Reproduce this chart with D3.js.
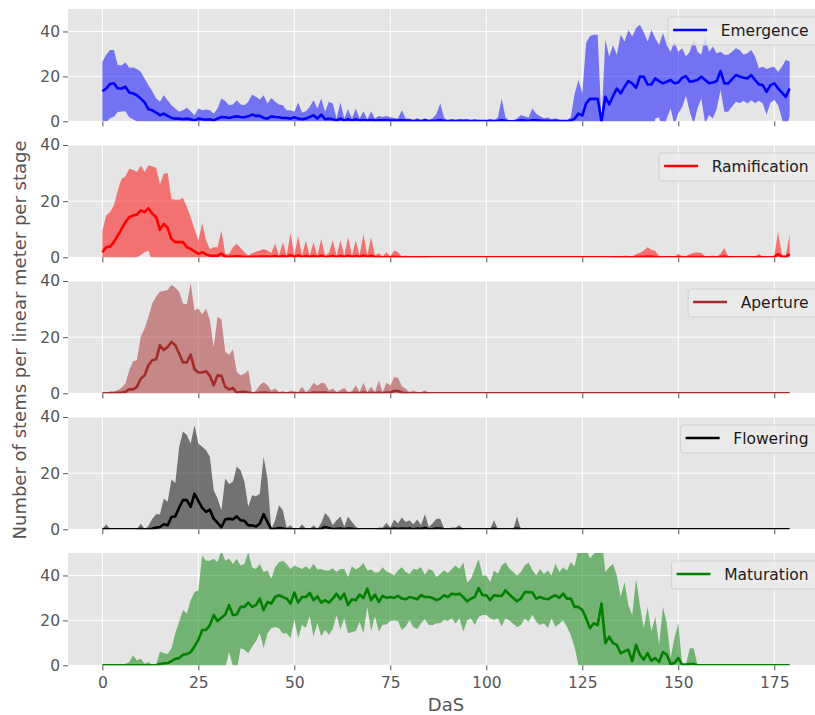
<!DOCTYPE html>
<html>
<head>
<meta charset="utf-8">
<script src="https://cdn.jsdelivr.net/npm/d3@7"></script>
<style>
html,body{margin:0;padding:0;background:#fff;}
svg{display:block;font-family:"DejaVu Sans",sans-serif;}
</style>
</head>
<body>
<svg id="chart" width="815" height="715"></svg>
<script>
// ---------------- DATA ----------------
const days = d3.range(0, 180);
const xTicks = [0, 25, 50, 75, 100, 125, 150, 175];
const yTicks = [0, 20, 40];
const stageNames = ["Emergence", "Ramification", "Aperture", "Flowering", "Maturation"];
const stageColors = ["#0000ff", "#ff0000", "#a52a2a", "#000000", "#008000"];
const yMax = [50, 40, 40, 40, 50];

const emergenceMean = [
13.4,14.6,16.6,16.9,14.6,14.6,15.4,12.8,12.4,11.6,
10.1,8.4,5.4,4.9,3.9,2.7,3.4,2.4,1.5,1.2,
1.2,0.9,1.2,0.9,0.4,1.2,0.9,0.7,0.9,0.4,
1.2,1.9,1.8,1.5,1.9,2.2,1.9,1.8,2.2,3.0,
2.4,2.4,1.5,1.2,2.2,1.9,1.8,1.5,1.5,1.2,
1.8,1.2,0.9,1.2,1.9,2.7,1.2,3.0,0.9,1.2,
0.9,0.3,1.2,0.3,0.9,0.3,0.9,0.3,0.6,0.3,
0.6,0.3,0.4,0.4,0.4,0.3,0.3,0.3,0.4,0.3,
0.3,0.1,0.3,0.1,0.4,0.1,0.2,0.3,0.5,0.2,
0.1,0.2,0.1,0.2,0.2,0.2,0.1,0.2,0.1,0.1,
0.1,0.2,0.1,0.2,0.5,0.2,0,0,0.2,0.4,
0.3,0.2,0.5,0.4,0.3,0.2,0.2,0.1,0.2,0.1,
0.1,0.1,0.3,1.2,3.4,2.5,8.0,10.0,10.0,10.0,
0,10.9,7.5,11.3,14.6,12.4,15.4,17.9,16.9,14.9,
19.9,19.9,16.4,16.4,19.1,17.9,16.9,17.6,18.4,16.9,
17.3,19.4,20.1,17.6,17.9,18.4,19.9,18.4,16.9,17.3,
17.9,22.4,16.9,16.9,18.8,20.6,19.9,19.4,19.1,20.6,
18.4,16.4,16.1,13.1,16.1,16.9,14.6,12.8,10.9,14.6];
const emergenceSd = [
13,15,15.2,14.9,10.5,10.2,10.9,11,11.5,11.7,
12,10.7,10.7,8.5,6.2,6,8.2,7,5.7,4.5,
3,4,4.8,3.6,2.3,4.5,4,4.5,4,3,
4.5,8.2,7.2,5.7,5.6,7.2,5.6,5.4,6.5,8.9,
8.5,7.3,10.1,6.7,8.2,6.8,5.7,5.7,3.4,3.7,
2.4,7.2,3,3.3,4.5,6.7,4.5,7.1,3.3,7.5,
7,0.9,7.2,0.9,4.5,0.9,4.8,0.9,3.9,0.6,
3.9,0.9,2,1.5,2,1.5,1.2,0.9,4.5,0.9,
0.9,0.3,1.2,0.3,1,0.5,1,3,7.4,1.5,
0.3,0.8,0.5,0.8,0.5,0.8,0.3,0.6,0.3,0.3,
0.3,0.8,0.3,1.5,9.5,1.5,0,0,1,2.4,
2,1.5,5.2,3,2,1.2,1.5,0.8,1.2,0.6,
0.3,0.3,1.5,11,15,10,27,28,28.5,28.5,
0,25.4,21.3,22.7,15,26.1,20.1,22.8,20.9,26.6,
23.1,19.8,19.1,24.3,17.9,16.1,22.4,16.4,12.6,18.6,
13.7,13.1,8.7,13.4,19.1,12.6,9.7,19.4,14.1,16,
12.4,8.6,12.7,12.7,12.2,11.9,11.9,10.2,11.2,11.2,
10.4,7.2,8.2,10.2,7.8,7.4,7.4,11.5,16.4,12];

const ramificationMean = [
1.8,3.6,3.8,5.4,7.7,10.1,12.5,14.3,14.9,15.2,
16.7,16.1,17.5,15.5,14.3,9.8,11.9,10.5,6.5,5.4,
5.4,5.4,3.6,3.0,2.1,1.2,1.8,1.0,0.6,0.5,
0.5,1.4,0.2,0.2,0.3,0.4,0.3,0.2,0.1,0.2,
0.2,0.3,0.3,0.3,0.2,0.5,0.1,0.5,0.1,0.8,
0.1,0.7,0.1,0.5,0.1,0.5,0.1,0.6,0.1,0.2,
0.5,0.1,0.5,0.1,0.6,0.1,0.5,0.1,0.7,0.1,
0.6,0.1,0.1,0,0.1,0,0.2,0.1,0,0,
0,0,0,0,0,0,0,0,0,0,
0,0,0,0,0,0,0,0,0,0,
0,0,0,0,0,0,0,0,0,0,
0,0,0,0,0,0,0,0,0,0,
0,0,0,0,0,0,0,0,0,0,
0,0,0,0,0,0,0,0,0,0.1,
0.1,0.2,0.3,0.2,0.1,0,0,0,0,0,
0.1,0,0,0.1,0.1,0.1,0.1,0,0,0,
0,0.1,0.3,0,0,0,0,0,0,0,
0,0.1,0,0,0,0.1,1.2,0.2,0.1,1.2];
const ramificationSd = [
7.7,11.3,12.3,13.1,16.1,17.9,16.3,17.2,16.3,15.2,
16,14.3,15.2,16.9,17.6,16.2,17.9,19.5,14.3,15.1,
15.1,15.8,14.3,11.3,8,4.8,10.3,5,2.4,3.1,
3.1,8.1,1,1,3.3,4.4,3,1.6,0.5,1.2,
1.8,2.1,2.7,2.1,1.3,4.3,0.5,4.9,0.5,7.8,
0.5,7,0.5,5.5,0.5,4.9,0.5,5.9,0.5,1.3,
5.5,0.5,5.5,0.5,6.5,0.5,5.5,0.5,7.6,0.5,
6.5,0.5,1.3,0.3,1.7,0.3,2.2,1.7,0.3,0.6,
0.2,0.2,0.5,0.3,0.5,0,0,0,0,0,
0,0,0,0,0,0,0,0,0,0,
0,0,0,0,0,0,0,0,0,0,
0,0,0,0,0,0,0,0,0,0,
0,0,0,0,0,0,0,0,0,0,
0,0,0,0.3,0.5,0.3,0.6,0.5,0.3,1,
1.5,2.2,3.3,2.5,2.1,0.5,0,0,0,0,
1.2,0.3,0.5,1,1.5,1.6,1.5,0.3,0.3,0.6,
0.3,1.2,3,0.3,0,0,0,0,0,0,
0.3,1,0.3,0,0,0.5,7.7,0.8,0.5,7.1];

const apertureMean = [
0,0,0,0,0.2,0.3,0.5,1.4,1.4,2.3,
5.2,6.4,10,11.8,12.1,17.1,15.4,16.5,18.3,17.1,
14.2,11,11,13.8,8.6,7.4,7.4,7.9,6.2,2.9,
6.4,6.2,2.3,1.4,1.9,0.2,0.5,0.5,0.3,0,
0,0.2,0.3,0.2,0,0.1,0,0,0,0,
0,0,0.1,0,0,0.3,0.2,0.3,0.3,0,
0.1,0,0,0.1,0,0,0.2,0,0.3,0,
0.2,0,0.3,0,0.3,0.3,0.8,0.8,0.3,0.1,
0,0,0,0,0.1,0,0,0,0,0,
0,0,0,0,0,0,0,0,0,0,
0,0,0,0,0,0,0,0,0,0,
0,0,0,0,0,0,0,0,0,0,
0,0,0,0,0,0,0,0,0,0,
0,0,0,0,0,0,0,0,0,0,
0,0,0,0,0,0,0,0,0,0,
0,0,0,0,0,0,0,0,0,0,
0,0,0,0,0,0,0,0,0,0,
0,0,0,0,0,0,0,0,0,0];
const apertureSd = [
0,0,0.7,0.7,0.9,1.7,3,6.8,10,9.5,
14.9,16.7,17.3,20.2,22.3,19.1,21,20.3,20.3,20.5,
22,21,20.7,25.4,21,22.8,20.7,22.3,19.8,13.6,
20.9,20.2,12.5,12.2,13.8,7.4,5.9,6.5,7.9,0,
1,2.7,3.7,2.7,1,1.6,0.5,0.8,0.3,1,
0.7,0.5,2.2,0.5,1.5,3.5,2.5,3.5,3.2,1,
1.6,0.5,1.2,1.8,0.5,0.8,2.7,0.5,3.5,0.5,
2.1,0.5,4.3,0.5,3.5,2.5,5,4.7,2.2,1.5,
0.5,1,0.5,0.3,1,0,0,0,0,0,
0,0,0,0,0,0,0,0,0,0,
0,0,0,0,0,0,0,0,0,0,
0,0,0,0,0,0,0,0,0,0,
0,0,0,0,0,0,0,0,0,0,
0,0,0,0,0,0,0,0,0,0,
0,0,0,0,0,0,0,0,0,0,
0,0,0,0,0,0,0,0,0,0,
0,0,0,0,0,0,0,0,0,0,
0,0,0,0,0,0,0,0,0,0];

const floweringMean = [
0,0.1,0,0,0,0,0,0,0,0,
0.1,0,0,0.2,0.6,0.8,1.8,1.4,4.4,4.6,
7.7,10.4,10.4,8,12.7,10.1,7.6,6.2,7,3.8,
2.3,0.8,3.5,3.8,3.5,4.6,3.2,3,1.4,1.4,
1,2,5.4,2.6,0,0.2,0.5,0.3,0,0,
0,0,0.1,0,0,0.1,0,0.2,0.8,0.5,
0,0.2,0.3,0,0.3,0.2,0,0,0,0,
0,0,0,0,0.2,0,0.3,0.1,0.3,0.2,
0.3,0,0.3,0.1,0.5,0,0.1,0.3,0.3,0,
0,0,0,0.1,0,0,0,0,0,0,
0,0,0.2,0,0,0,0,0,0.3,0,
0,0,0,0,0,0,0,0,0,0,
0,0,0,0,0,0,0,0,0,0,
0,0,0,0,0,0,0,0,0,0,
0,0,0,0,0,0,0,0,0,0,
0,0,0,0,0,0,0,0,0,0,
0,0,0,0,0,0,0,0,0,0,
0,0,0,0,0,0,0,0,0,0];
const floweringSd = [
0,1.7,0,0,0,0,0,0,0,0,
1.9,0,1.3,3.6,4.8,4.6,9.2,8.4,13.3,11.9,
21.7,24.4,23.2,22.6,24.4,20.5,21.8,22,18.8,10.1,
8.7,6,14.6,12.3,13.4,17.7,17.8,13.9,6.6,10.7,
10.8,10.7,20.4,15.5,0,3,8.1,6.5,0.6,1.4,
0,0,1.7,0.3,0,1.3,0,2,5,3.9,
1.4,3,4.3,1,4.3,2.4,1,0,0,0,
0,0,0.6,0.6,2.1,0.6,3.2,2,3.9,2.4,
2.9,1.8,3.2,1.4,4.9,0.8,2,3.5,3.5,0.3,
0.3,0.6,0.6,1.3,0,0,0,0,0,0,
0,0,3,0,0,0,0,0,4.3,0,
0,0,0,0,0,0,0,0,0,0,
0,0,0,0,0,0,0,0,0,0,
0,0,0,0,0,0,0,0,0,0,
0,0,0,0,0,0,0,0,0,0,
0,0,0,0,0,0,0,0,0,0,
0,0,0,0,0,0,0,0,0,0,
0,0,0,0,0,0,0,0,0,0];

const maturationMean = [
0,0,0,0,0,0,0,0,0,0,
0,0,0,0,0,0.6,0.9,1,1.8,2.9,
3.2,4.7,5,5.9,8.4,11.3,15.7,15.7,17.9,22.4,
19.7,21.2,22.6,26.8,22.4,22.6,26,26,27.9,26,
26.8,29.7,24.6,28.2,27.5,30.4,31.2,30.4,29.7,27.5,
32.4,27.9,30.4,30.4,32.2,29,30.7,27.9,29,27.9,
29.7,31.9,29.4,31.9,26.8,29.4,29,31.5,30,34.1,
29,31.5,28.2,30.9,30,30.4,30,30.9,29.7,29.4,
30.4,30,29.4,31.2,30.4,30.4,30,29,29.7,31.2,
30.4,31.9,31.5,31.9,30.4,28.5,29.7,30.4,34.4,31.2,
31.2,29,31.2,30.9,30.9,33.4,31.5,30,28.5,29.7,
32.6,32.6,32.4,29.7,30.4,29.7,29.4,30.4,31.2,30,
31.9,29.7,29.7,26,26,24.6,20.9,16.5,18.7,17.9,
27.5,9.9,12.8,9.9,9.1,5.4,6.2,6.9,1.8,9.1,
4.7,2.5,5.4,2.1,3.2,1.5,5.9,4.7,0.6,1,
3.2,0.3,0.3,0.6,0.6,0,0,0,0,0,
0,0,0,0,0,0,0,0,0,0,
0,0,0,0,0,0,0,0,0,0];
const maturationSd = [
0.3,0.3,0.3,0.3,0.3,0.3,0.7,1.5,4.4,2.2,
2.9,0.7,1.5,0.3,0,5.6,4.5,4,5.8,11.4,
16.2,19.9,18.1,23.1,24.2,22.1,33.1,30.9,28.7,25,
26.2,30,24,20.8,22.7,24.8,18.4,19.1,22.5,17.7,
16.1,15.4,16.9,14,11,13.3,14.7,16.2,15.4,15.4,
12,15.7,12.5,13.7,10.4,16.2,11.9,15,13.2,14.3,
13.5,9.6,13.5,11,12.5,14.7,13.7,12.2,15.6,8.1,
13.7,9.7,13.2,12.8,11.8,10.7,10,11.3,14,12.1,
10.3,12.9,13.2,12.5,9.9,12.5,12.2,10.3,11,11,
10.7,11,12.9,11,15.4,8.5,8.8,12.5,12.9,8.8,
8.8,8.1,11,9.9,13.5,12.5,11.5,11.5,11.5,11.8,
11.8,13.2,9.9,10.3,12.5,11,12.8,9.6,14,11.5,
11.8,12.5,16.2,18,26,30,31,31,31,34,
30,31.6,30.9,35.2,30.9,25,30.9,19.9,20.6,29.4,
22.1,14,20.6,12.9,18.4,7.6,20.1,14,2.6,11.1,
15.5,0,0,7,7,0,0,0,0,0,
0,0,0,0,0,0,0,0,0,0,
0,0,0,0,0,0,0,0,0,0];

const stageMeans = [emergenceMean, ramificationMean, apertureMean, floweringMean, maturationMean];
const stageSds = [emergenceSd, ramificationSd, apertureSd, floweringSd, maturationSd];

// ---------------- LAYOUT ----------------
const svg = d3.select("#chart");
const left = 68, right = 824;
const panelTop0 = 9, panelStep = 136, panelH = 112.3;
const x = d3.scaleLinear().domain([-8.95, 187.95]).range([left, right]);
const tickColor = "#555555";
const fontSize = 15.5;

stageNames.forEach((name, i) => {
  const top = panelTop0 + i * panelStep;
  const bottom = top + panelH;
  const y = d3.scaleLinear().domain([0, yMax[i]]).range([bottom, top]);
  const g = svg.append("g");
  const clipId = "clip" + i;
  svg.append("clipPath").attr("id", clipId)
    .append("rect").attr("x", left).attr("y", top).attr("width", right - left).attr("height", panelH);

  g.append("rect").attr("x", left).attr("y", top).attr("width", right - left).attr("height", panelH)
    .attr("fill", "#e5e5e5");

  // grid
  g.selectAll(".gx").data(xTicks).enter().append("line")
    .attr("x1", d => x(d)).attr("x2", d => x(d)).attr("y1", top).attr("y2", bottom)
    .attr("stroke", "#ffffff").attr("stroke-width", 1);
  g.selectAll(".gy").data(yTicks).enter().append("line")
    .attr("x1", left).attr("x2", right).attr("y1", d => y(d)).attr("y2", d => y(d))
    .attr("stroke", "#ffffff").attr("stroke-width", 1);

  const mean = stageMeans[i], sd = stageSds[i];
  const pts = days.map((d, k) => ({d: d, m: mean[k], s: sd[k]}));

  const plot = g.append("g").attr("clip-path", `url(#${clipId})`);
  plot.append("path").datum(pts)
    .attr("d", d3.area().x(p => x(p.d)).y0(p => y(p.m - p.s)).y1(p => y(p.m + p.s)))
    .attr("fill", stageColors[i]).attr("fill-opacity", 0.5);
  plot.append("path").datum(pts)
    .attr("d", d3.line().x(p => x(p.d)).y(p => y(p.m)))
    .attr("fill", "none").attr("stroke", stageColors[i]).attr("stroke-width", 2.6)
    .attr("stroke-linejoin", "round");

  // y axis
  const ya = g.append("g").attr("transform", `translate(${left},0)`)
    .call(d3.axisLeft(y).tickValues(yTicks).tickSize(5).tickPadding(3).tickFormat(d3.format("d")));
  ya.select(".domain").remove();
  ya.selectAll("line").attr("stroke", tickColor);
  ya.selectAll("text").attr("fill", tickColor).style("font-size", fontSize + "px")
    .style("font-family", "DejaVu Sans");

  // x axis
  const xa = g.append("g").attr("transform", `translate(0,${bottom})`)
    .call(d3.axisBottom(x).tickValues(xTicks).tickSize(5).tickPadding(7).tickFormat(d3.format("d")));
  xa.select(".domain").remove();
  xa.selectAll("line").attr("stroke", tickColor);
  if (i < stageNames.length - 1) {
    xa.selectAll("text").remove();
  } else {
    xa.selectAll("text").attr("fill", tickColor).style("font-size", fontSize + "px")
      .style("font-family", "DejaVu Sans");
  }

  // legend
  const lg = g.append("g");
  const boxTop = top + 8, boxH = 28, boxRight = 817;
  const txt = lg.append("text").text(name).attr("y", boxTop + 19)
    .style("font-size", fontSize + "px").attr("fill", "#1a1a1a");
  const tw = txt.node().getComputedTextLength();
  const boxLeft = boxRight - (tw + 52.6 + 8.5);
  lg.insert("rect", "text").attr("x", boxLeft).attr("y", boxTop).attr("width", boxRight - boxLeft)
    .attr("height", boxH).attr("rx", 3).attr("fill", "#ebebeb").attr("fill-opacity", 0.8)
    .attr("stroke", "#d2d2d2").attr("stroke-width", 1);
  txt.attr("x", boxLeft + 52.6);
  lg.append("line").attr("x1", boxLeft + 5).attr("x2", boxLeft + 39)
    .attr("y1", boxTop + 13).attr("y2", boxTop + 13)
    .attr("stroke", stageColors[i]).attr("stroke-width", 2.6);
});

// labels
svg.append("text").text("DaS")
  .attr("x", (left + right) / 2).attr("y", 711).attr("text-anchor", "middle")
  .style("font-size", "18px").attr("fill", tickColor);
svg.append("text").text("Number of stems per linear meter per stage")
  .attr("transform", "translate(26,340) rotate(-90)").attr("text-anchor", "middle")
  .style("font-size", "18px").attr("fill", tickColor);
</script>
</body>
</html>
